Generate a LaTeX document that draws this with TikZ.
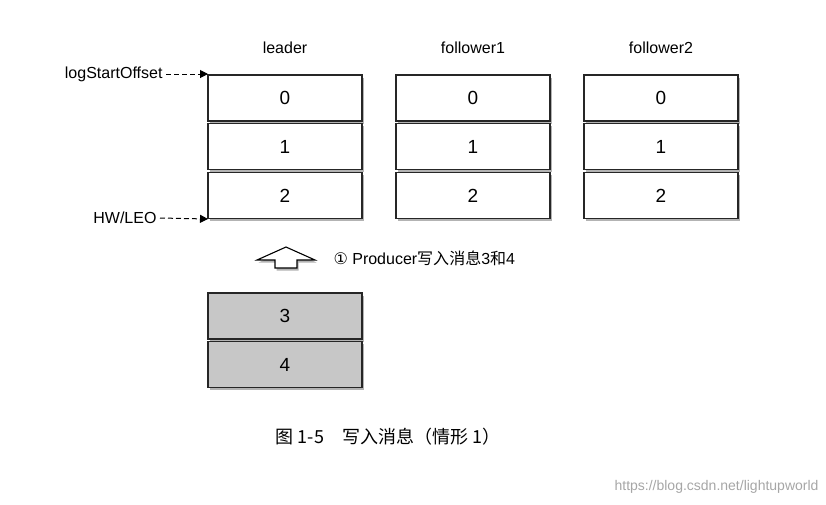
\documentclass[tikz,border=0pt]{standalone}
\usepackage{fontspec}
\setmainfont{Liberation Sans}
\newfontfamily\cjk{Noto Sans CJK SC}
\newfontfamily\dv{DejaVu Sans}
\usetikzlibrary{shadows,arrows.meta}
\begin{document}
\begin{tikzpicture}[x=1pt,y=-1pt,
  cell/.style={draw=black!85,line width=1.2pt,minimum width=154pt,minimum height=46pt,inner sep=0pt,font=\fontsize{19}{19}\selectfont,drop shadow={shadow xshift=1.5pt,shadow yshift=-2.5pt,opacity=0.6}},
  graycell/.style={cell,fill=black!22},
  hdr/.style={font=\fontsize{16}{16}\selectfont},
  lbl/.style={font=\fontsize{16}{16}\selectfont,anchor=east},
  dasharrow/.style={dash pattern=on 5pt off 3pt,line width=1pt,-{Triangle[length=8pt,width=8pt]}}]
\useasboundingbox (0,0) rectangle (826,504);
\foreach \n/\x in {l/285,f/473,g/661}{
  \foreach \v/\y in {0/98,1/146.5,2/195.5}{
    \node[cell,fill=white] (\n\v) at (\x,\y) {\v};
  }
}
\node[hdr] (hl) at (285,48) {leader};
\node[hdr] (hf) at (473,48) {follower1};
\node[hdr] (hg) at (661,48) {follower2};
\coordinate (ls) at (208,74);
\coordinate (hw) at (208,219);
\node[lbl] (lso) at (166,74) {logStartOffset};
\node[lbl] (hwl) at (160,218) {HW/LEO};
\draw[dasharrow] (lso.east) -- (ls);
\draw[dasharrow] (hwl.east) -- (hw);
\node[graycell] (c3) at (285,316) {3};
\node[graycell] (c4) at (285,364.5) {4};
\draw[line width=1.1pt,fill=white,drop shadow={shadow xshift=1.5pt,shadow yshift=-2.5pt,opacity=0.6}]
  (257,260) -- (286,247) -- (315,260) -- (297,260) -- (297,268) -- (275,268) -- (275,260) -- cycle;
\node[anchor=west,font=\fontsize{16}{16}\selectfont] (pt) at (330,258) {{\dv ①} Producer{\cjk 写入消息}3{\cjk 和}4};
\node[font=\cjk\fontsize{18}{18}\selectfont] (cap) at (388,437) {图 1-5\quad 写入消息（情形 1）};
\node[font=\fontsize{14}{14}\selectfont,text=black!35,anchor=east] (wm) at (822,487) {https://blog.csdn.net/lightupworld};
\end{tikzpicture}
\end{document}
